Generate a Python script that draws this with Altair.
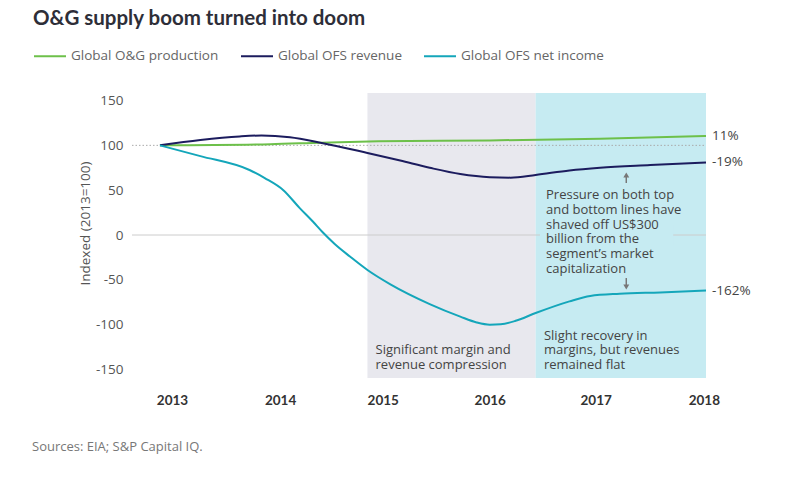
import altair as alt
import pandas as pd

# ---- data ----
series_names = ["Global O&G production", "Global OFS revenue", "Global OFS net income"]
series_colors = ["#6DC04A", "#1C1C5E", "#14A6BA"]

prod_years = [2013.0, 2014.01, 2014.47, 2015.0, 2016.02, 2017.03, 2018.0]
prod_vals = [100, 101.2, 103, 104.5, 105.5, 107.5, 110.5]

rev_years = [2013.0, 2013.37, 2013.73, 2013.93, 2014.19, 2014.47, 2014.9, 2015.2,
             2015.47, 2015.75, 2016.02, 2016.21, 2016.44, 2016.75, 2017.03, 2017.49, 2018.0]
rev_vals = [100, 106, 110, 111, 109, 103, 91.5, 83, 75, 68, 64.5, 64, 67, 72, 75, 78, 81]

inc_years = [2013.0, 2013.37, 2013.82, 2013.96, 2014.13, 2014.28, 2014.40, 2014.49, 2014.60,
             2014.74, 2014.90, 2015.11, 2015.47, 2015.75, 2015.90, 2016.02, 2016.12, 2016.25,
             2016.44, 2016.75, 2016.94, 2017.21, 2017.58, 2018.0]
inc_vals = [100, 88, 72.5, 63.5, 50, 30, 15, 3, -10, -24, -39, -55, -77, -91, -97.5, -100, -99.5,
            -96, -87, -74, -68, -65.5, -64, -62]

end_labels = ["11%", "-19%", "-162%"]
year_ticks = [2013.11, 2014.1, 2015.04, 2016.02, 2016.99, 2017.98]
y_ticks = [-150, -100, -50, 0, 50, 100, 150]

periods = ["compression", "recovery"]
period_start = [2014.9, 2016.44]
period_end = [2016.44, 2018.0]
period_colors = ["#E8E8EE", "#C6EBF2"]

X_DOM = [2012.744, 2018.0]
Y_DOM = [-159.5, 158.4]
FONT = "Open Sans"
BOLD = "Lato"

rows = []
for name, xs_, vs in [(series_names[0], prod_years, prod_vals),
                      (series_names[1], rev_years, rev_vals),
                      (series_names[2], inc_years, inc_vals)]:
    for x, v in zip(xs_, vs):
        rows.append({"series": name, "year": x, "value": v})
lines_df = pd.DataFrame(rows)

ends_df = pd.DataFrame({
    "series": series_names,
    "year": [prod_years[-1], rev_years[-1], inc_years[-1]],
    "value": [prod_vals[-1], rev_vals[-1], inc_vals[-1]],
    "label": end_labels,
    "shift": [-4, -2, 1],
})

shade_df = pd.DataFrame({"period": periods, "x": period_start, "x2": period_end})

xs = alt.Scale(domain=X_DOM, nice=False, zero=False)
ys = alt.Scale(domain=Y_DOM, nice=False, zero=False)

x_axis = alt.Axis(values=year_ticks, labelExpr="'' + round(datum.value)", title=None,
                  domain=False, ticks=False, grid=False, labelFont=BOLD, labelFontWeight="bold",
                  labelFontSize=13.5, labelColor="#333333", labelPadding=15)
y_axis = alt.Axis(values=y_ticks, labelExpr="'' + datum.value", title="Indexed (2013=100)",
                  domain=False, ticks=False, grid=False,
                  labelFont=FONT, labelFontSize=13.5, labelColor="#555555", labelPadding=9,
                  titleFont=FONT, titleFontSize=13.5, titleFontWeight="normal", titleColor="#555555",
                  titleX=-47, titleY=130, titleAngle=270, titleAlign="center", titleBaseline="middle")

shades = alt.Chart(shade_df).mark_rect(opacity=1).encode(
    x=alt.X("x:Q", scale=xs, axis=x_axis),
    x2="x2:Q",
    y=alt.datum(Y_DOM[0], scale=ys, axis=y_axis),
    y2=alt.datum(Y_DOM[1]),
    fill=alt.Fill("period:N", scale=alt.Scale(domain=periods, range=period_colors), legend=None),
)

zero_rule = alt.Chart().mark_rule(color="#CCCCCC", strokeWidth=1).encode(
    x=alt.datum(X_DOM[0], scale=xs), x2=alt.datum(X_DOM[1]), y=alt.datum(0, scale=ys))
hundred_rule = alt.Chart().mark_rule(color="#AAAAAA", strokeWidth=1, strokeDash=[1.5, 2]).encode(
    x=alt.datum(X_DOM[0], scale=xs), x2=alt.datum(X_DOM[1]), y=alt.datum(100, scale=ys))

text_bg = alt.Chart().mark_rect(fill=period_colors[1], opacity=1).encode(
    x=alt.datum(2016.48, scale=xs), x2=alt.datum(2017.70),
    y=alt.datum(12, scale=ys), y2=alt.datum(-12))

lines = alt.Chart(lines_df).mark_line(strokeWidth=2, interpolate="monotone").encode(
    x=alt.X("year:Q", scale=xs),
    y=alt.Y("value:Q", scale=ys),
    stroke=alt.Stroke("series:N", scale=alt.Scale(domain=series_names, range=series_colors),
                      legend=alt.Legend(orient="none", legendX=-99, legendY=-54, direction="horizontal",
                                        title=None, symbolType="stroke", symbolSize=1024,
                                        symbolStrokeWidth=2, labelFont=FONT, labelFontSize=13.5,
                                        labelColor="#666666", columnPadding=18, labelOffset=4,
                                        padding=0, labelLimit=300)),
    detail="series:N",
)

end_text = alt.Chart(ends_df).mark_text(align="left", baseline="middle", dx=6, font=FONT,
                                        fontSize=13.5, color="#444444").encode(
    x=alt.X("year:Q", scale=xs),
    y=alt.Y("value:Q", scale=ys),
    yOffset="shift:Q",
    text="label:N",
)

def note(txt, x, y, lh):
    return alt.Chart().mark_text(text=txt, align="left", baseline="alphabetic", font=FONT,
                                 fontSize=13, color="#444444", lineHeight=lh).encode(
        x=alt.datum(x, scale=xs), y=alt.datum(y, scale=ys))

note1 = note(["Pressure on both top", "and bottom lines have", "shaved off US$300",
              "billion from the", "segment\u2019s market", "capitalization"], 2016.535, 39.8, 14.7)
note2 = note(["Significant margin and", "revenue compression"], 2014.974, -132.7, 14.7)
note3 = note(["Slight recovery in", "margins, but revenues", "remained flat"], 2016.516, -117.1, 14.5)

arrow_col = "#777777"
up_shaft = alt.Chart().mark_rule(color=arrow_col, strokeWidth=1.5).encode(
    x=alt.datum(2017.27, scale=xs), y=alt.datum(66, scale=ys), y2=alt.datum(58))
up_head = alt.Chart().mark_point(shape="triangle-up", filled=True, size=35, color=arrow_col,
                                 opacity=1).encode(
    x=alt.datum(2017.27, scale=xs), y=alt.datum(67, scale=ys))
dn_shaft = alt.Chart().mark_rule(color=arrow_col, strokeWidth=1.5).encode(
    x=alt.datum(2017.27, scale=xs), y=alt.datum(-48, scale=ys), y2=alt.datum(-56))
dn_head = alt.Chart().mark_point(shape="triangle-down", filled=True, size=35, color=arrow_col,
                                 opacity=1).encode(
    x=alt.datum(2017.27, scale=xs), y=alt.datum(-58, scale=ys))

title = alt.Chart().mark_text(text="O&G supply boom turned into doom", align="left",
                              baseline="alphabetic", font=BOLD, fontWeight="bold",
                              fontSize=20.5, color="#2E2E38").encode(
    x=alt.value(-99), y=alt.value(-68))
source = alt.Chart().mark_text(text="Sources: EIA; S&P Capital IQ.", align="left",
                               baseline="middle", font=FONT, fontSize=13,
                               color="#777777").encode(
    x=alt.value(-100), y=alt.value(354))

chart = alt.layer(
    shades, zero_rule, hundred_rule, text_bg, lines, end_text, note1, note2, note3,
    up_shaft, up_head, dn_shaft, dn_head, title, source,
).properties(
    width=574, height=285,
    autosize=alt.AutoSizeParams(type="none"),
    padding={"left": 124, "top": 85, "right": 70, "bottom": 85},
    background="white",
).configure_view(stroke=None)

chart.save("out.html", embed_options={"renderer": "svg", "actions": False})
